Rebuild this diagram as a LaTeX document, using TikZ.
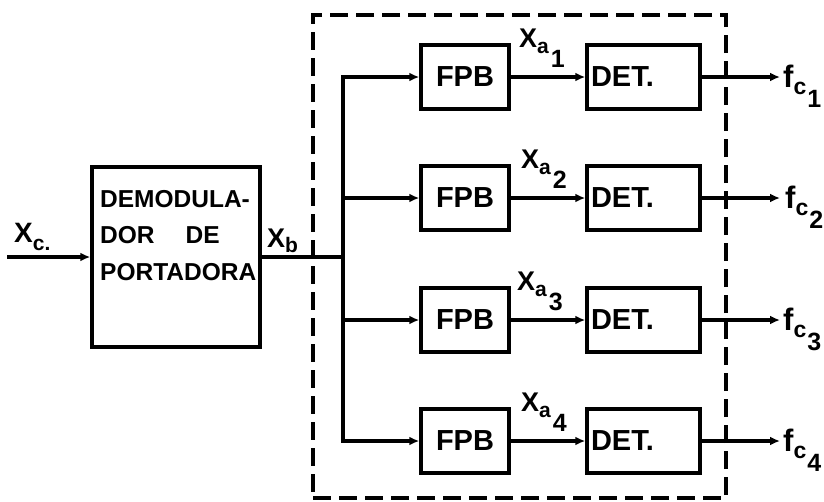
\documentclass[tikz,border=0pt]{standalone}
\usepackage{fontspec}
\setmainfont{Liberation Sans}
\usetikzlibrary{arrows.meta}
\newcommand{\fsz}[1]{\fontsize{#1}{#1}\selectfont\bfseries}
\newcommand{\xalabel}[1]{X\raisebox{-6pt}{\fsz{21}a}\kern2pt\raisebox{-20pt}{\fsz{25}#1}}
\newcommand{\fclabel}[1]{f\raisebox{-7pt}{\fsz{23}c}\kern1pt\raisebox{-20pt}{\fsz{25}#1}}
\begin{document}
\begin{tikzpicture}[x=1pt,y=-1pt,
  blk/.style={draw, line width=3.5pt, inner sep=0pt, minimum width=88pt, minimum height=64pt, font=\fsz{29}},
  detbox/.style={blk, minimum width=113pt, text width=105pt, align=left},
  wire/.style={line width=3.5pt},
  arr/.style={wire, -{Latex[length=10pt,width=9pt]}},
  lbl/.style={inner sep=0pt, anchor=base west}
]
\useasboundingbox (0,0) rectangle (824,501);

% group (dashed)
\node[draw, line width=3.5pt, dash pattern=on 18pt off 8pt, inner sep=0pt,
      minimum width=413pt, minimum height=483pt] (grp) at (519.5,256.5) {};

% demodulator
\node[draw, line width=3.5pt, inner sep=0pt, minimum width=168pt, minimum height=180pt] (dem) at (176,257) {};
\node[lbl, font=\fsz{24.5}] (d1) at (100,207) {DEMODULA-};
\node[lbl, font=\fsz{24.5}] (d2) at (100,243) {DOR\hspace{31pt}DE};
\node[lbl, font=\fsz{24.5}] (d3) at (100,280) {PORTADORA};

% input / output of demodulator
\coordinate (in) at (7,257);
\coordinate (bus) at (343,257);
\draw[arr] (in) -- (dem.west);
\draw[wire] (dem.east) -- (bus);
\node[lbl, font=\fsz{28}] (xc) at (14,242) {X\raisebox{-8pt}{\fsz{21}c.}};
\node[lbl, font=\fsz{27}] (xb) at (267,247) {X\raisebox{-5pt}{\fsz{21}b}};

% filters and detectors
\foreach \i/\y in {1/77,2/198,3/320,4/441}{
  \node[blk] (fpb\i) at (465,\y) {FPB};
  \node[detbox] (det\i) at (643.5,\y) {DET.};
  \coordinate (o\i) at (780,\y);
  \coordinate (b\i) at (343,\y);
  \draw[arr] (b\i) -- (fpb\i.west);
  \draw[arr] (fpb\i.east) -- (det\i.west);
  \draw[arr] (det\i.east) -- (o\i);
}
\draw[wire, line cap=rect] (b1) -- (b4);

% labels
\node[lbl, font=\fsz{27}] (xa1) at (519,47) {\xalabel{1}};
\node[lbl, font=\fsz{27}] (xa2) at (521,168) {\xalabel{2}};
\node[lbl, font=\fsz{27}] (xa3) at (517,290) {\xalabel{3}};
\node[lbl, font=\fsz{27}] (xa4) at (521,411) {\xalabel{4}};

\node[lbl, font=\fsz{31}] (fc1) at (783,87) {\fclabel{1}};
\node[lbl, font=\fsz{31}] (fc2) at (785,208) {\fclabel{2}};
\node[lbl, font=\fsz{31}] (fc3) at (783,330) {\fclabel{3}};
\node[lbl, font=\fsz{31}] (fc4) at (783,451) {\fclabel{4}};
\end{tikzpicture}
\end{document}
